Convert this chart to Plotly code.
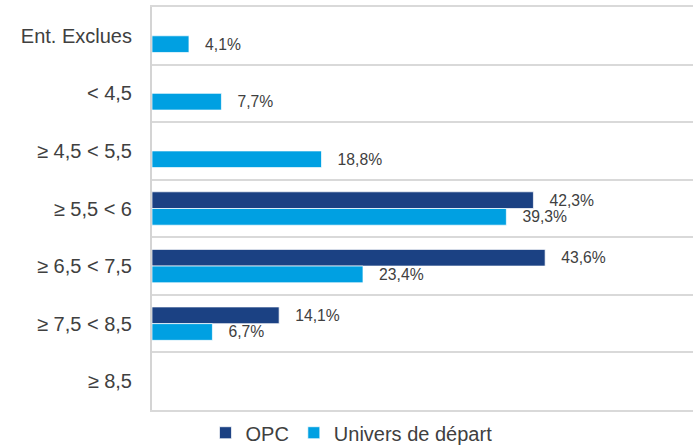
import plotly.graph_objects as go

categories = ["Ent. Exclues", "< 4,5", "≥ 4,5 < 5,5", "≥ 5,5 < 6", "≥ 6,5 < 7,5", "≥ 7,5 < 8,5", "≥ 8,5"]
opc = [None, None, None, 42.3, 43.6, 14.1, None]
univers = [4.1, 7.7, 18.8, 39.3, 23.4, 6.7, None]
series_names = ["OPC", "Univers de départ"]

NB = "\u00a0"
tt = NB * 3 + "%{x:.1f}%"

fig = go.Figure()
fig.add_trace(go.Bar(
    y=categories, x=opc, name=series_names[0], orientation="h",
    marker=dict(color="#1B4183", line=dict(color="rgba(255,255,255,0.7)", width=1)),
    texttemplate=tt, textposition="outside", cliponaxis=False,
    textfont=dict(size=16, color="#404040"), hoverinfo="x+y",
))
fig.add_trace(go.Bar(
    y=categories, x=univers, name=series_names[1], orientation="h",
    marker=dict(color="#00A0E2", line=dict(color="rgba(255,255,255,0.7)", width=1)),
    texttemplate=tt, textposition="outside", cliponaxis=False,
    textfont=dict(size=16, color="#404040"), hoverinfo="x+y",
))

fig.update_layout(
    width=696, height=445,
    margin=dict(l=152, r=3, t=7, b=35, autoexpand=False),
    paper_bgcolor="white", plot_bgcolor="white",
    font=dict(family="Arial, Liberation Sans, sans-serif", color="#404040"),
    separators=", ",
    barmode="group", bargap=0.42, bargroupgap=0,
    showlegend=True,
    legend=dict(orientation="h", xref="container", x=0.505, xanchor="center",
                yref="paper", y=-0.008, yanchor="top",
                bgcolor="rgba(0,0,0,0)",
                font=dict(size=20, color="#404040"), traceorder="normal",
                itemwidth=30),
)
fig.update_xaxes(range=[0, 60], showticklabels=False, showgrid=False,
                 zeroline=False, showline=True, mirror=True,
                 linecolor="#D9D9D9", linewidth=1.5, automargin=False)
fig.update_yaxes(autorange="reversed", categoryorder="array", categoryarray=categories,
                 tickson="boundaries", showgrid=True, gridcolor="#D9D9D9", gridwidth=1.5,
                 showline=True, linecolor="#D4D4D4", linewidth=2,
                 ticks="", tickfont=dict(size=20, color="#404040"),
                 ticklabelstandoff=14, automargin=False)

fig.write_html("out.html",
               config={"displayModeBar": False},
               post_script="document.body.style.margin='0';document.body.style.overflow='hidden';")
